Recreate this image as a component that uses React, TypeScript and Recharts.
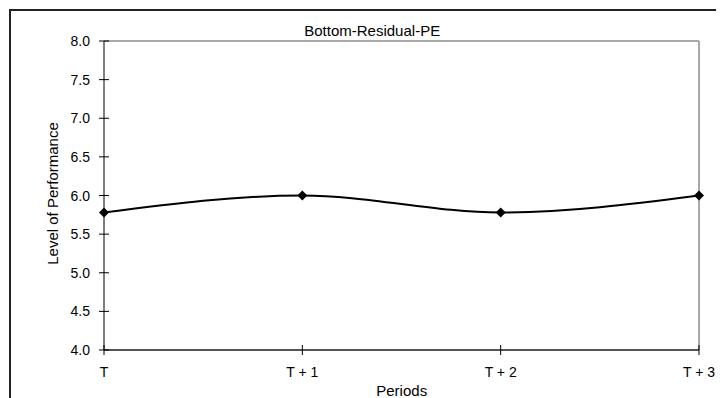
import React from "react";
import { LineChart, Line, XAxis, YAxis, ReferenceLine, Label } from "recharts";

const periods = ["T", "T + 1", "T + 2", "T + 3"];
const performance = [5.78, 6.0, 5.78, 6.0];
const yTicks = [4.0, 4.5, 5.0, 5.5, 6.0, 6.5, 7.0, 7.5, 8.0];
const title = "Bottom-Residual-PE";
const xTitle = "Periods";
const yTitle = "Level of Performance";

const data = periods.map((p, i) => ({ period: p, value: performance[i] }));
const FONT = "'Liberation Sans', Arial, sans-serif";

const YTick = (props: any) => {
  const { x, y, payload } = props;
  return (
    <g>
      <line x1={x - 5} x2={x + 5} y1={y} y2={y} stroke="#000" strokeWidth={1} />
      <text x={x - 14} y={y} dy="0.36em" textAnchor="end" fontSize={14} fontFamily={FONT} fill="#000">
        {Number(payload.value).toFixed(1)}
      </text>
    </g>
  );
};

const XTick = (props: any) => {
  const { x, y, payload } = props;
  return (
    <g>
      <line x1={x} x2={x} y1={y - 5} y2={y + 5} stroke="#000" strokeWidth={1} />
      <text x={x} y={y + 27} textAnchor="middle" fontSize={14} fontFamily={FONT} fill="#000">
        {payload.value}
      </text>
    </g>
  );
};

const Diamond = (props: any) => {
  const { cx, cy } = props;
  if (cx == null || cy == null) return null;
  const s = 5;
  return <polygon points={`${cx},${cy - s} ${cx + s},${cy} ${cx},${cy + s} ${cx - s},${cy}`} fill="#000" />;
};

export default function App() {
  return (
    <div style={{ position: "relative", width: 716, height: 390 }}>
      <div
        style={{
          position: "absolute",
          left: 1,
          top: 1,
          width: 715,
          height: 389,
          borderTop: "2px solid #222",
          borderLeft: "2px solid #222",
          boxSizing: "border-box",
        }}
      />
      <div style={{ position: "absolute", left: 0, top: 0 }}>
        <LineChart width={716} height={390} data={data} margin={{ top: 33, right: 25, bottom: 18, left: 36 }}>
          <ReferenceLine y={8} stroke="#8c8c8c" strokeWidth={1.5} ifOverflow="visible" />
          <ReferenceLine x="T + 3" stroke="#8c8c8c" strokeWidth={1.5} ifOverflow="visible" />
          <XAxis
            dataKey="period"
            height={30}
            tickSize={0}
            tickMargin={0}
            tickLine={false}
            axisLine={{ stroke: "#555", strokeWidth: 2 }}
            tick={<XTick />}
            interval={0}
          >
            <Label
              content={() => (
                <text x={393.7} y={387.5} textAnchor="middle" fontSize={15} fontFamily={FONT} fill="#000">
                  {xTitle}
                </text>
              )}
            />
          </XAxis>
          <YAxis
            width={60}
            domain={[4, 8]}
            ticks={yTicks}
            type="number"
            tickSize={0}
            tickMargin={0}
            tickLine={false}
            axisLine={{ stroke: "#000", strokeWidth: 1 }}
            tick={<YTick />}
            interval={0}
          >
            <Label
              content={() => (
                <g>
                  <text
                    x={50.3}
                    y={185.5}
                    transform="rotate(-90, 50.3, 185.5)"
                    textAnchor="middle"
                    fontSize={15}
                    fontFamily={FONT}
                    fill="#000"
                  >
                    {yTitle}
                  </text>
                  <text x={364.2} y={27.7} textAnchor="middle" fontSize={15} fontFamily={FONT} fill="#000">
                    {title}
                  </text>
                </g>
              )}
            />
          </YAxis>
          <Line
            type="monotone"
            dataKey="value"
            stroke="#000"
            strokeWidth={2}
            dot={<Diamond />}
            activeDot={false}
            isAnimationActive={false}
          />
        </LineChart>
      </div>
    </div>
  );
}
